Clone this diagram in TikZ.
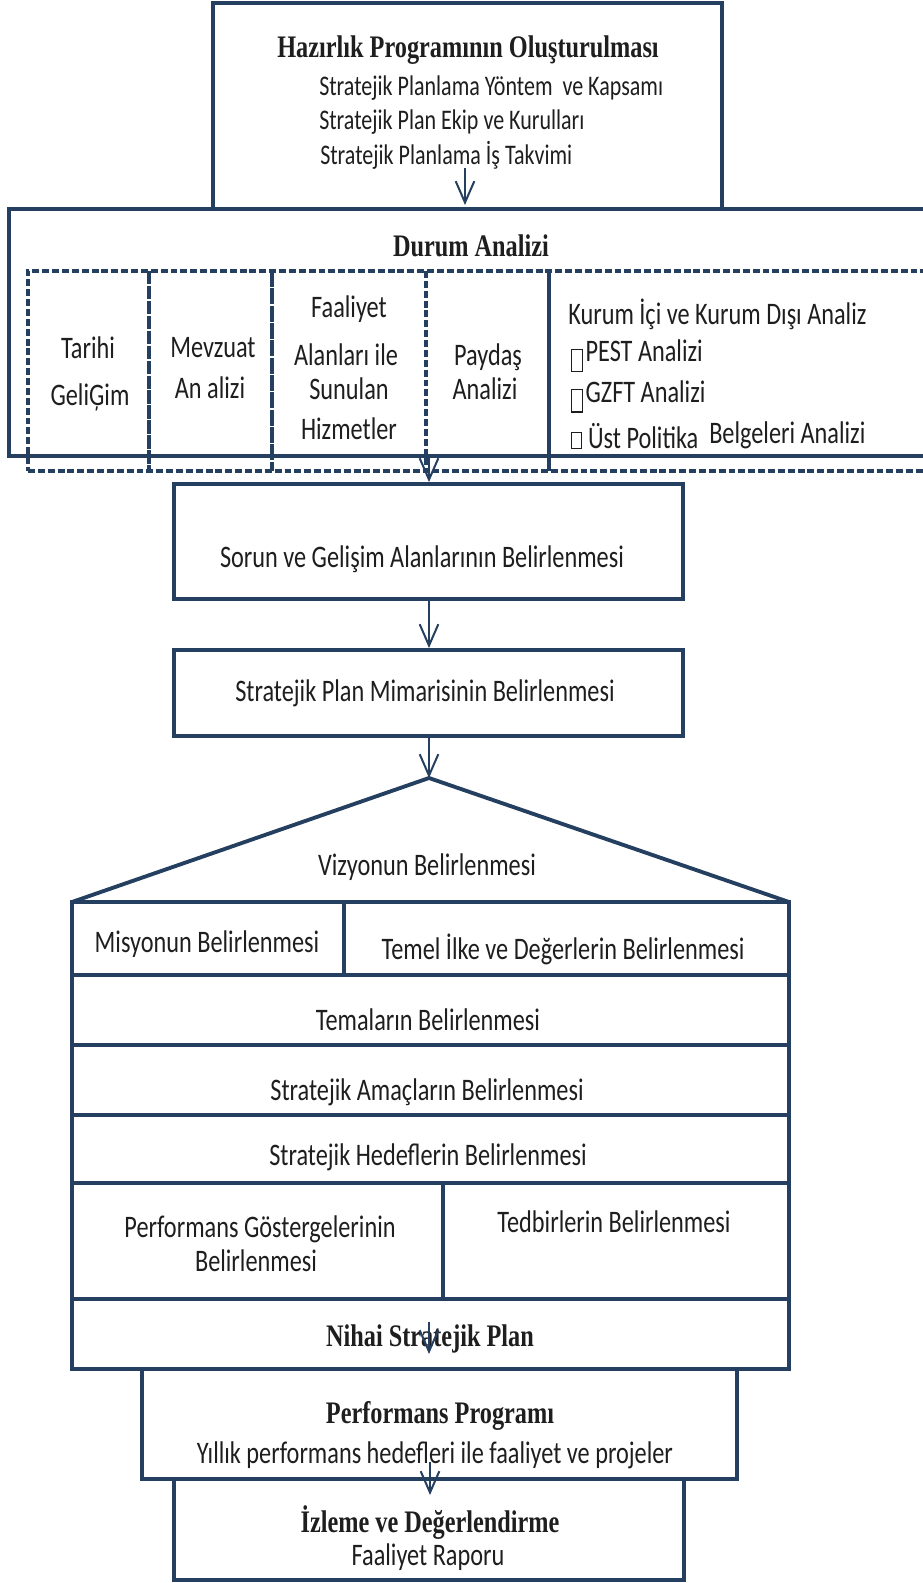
\documentclass[tikz,border=0pt]{standalone}
\usepackage{fontspec}
\setmainfont{Carlito}[FakeStretch=0.775]
\newfontfamily\hfont{Liberation Serif}[FakeStretch=0.775]
\usetikzlibrary{arrows.meta,fit}
\definecolor{lc}{HTML}{243F60}
\definecolor{tc}{HTML}{1E1E1E}
\newcommand\missbox[3]{\raisebox{#1}{\setlength{\fboxsep}{0pt}\setlength{\fboxrule}{0.9pt}\fbox{\rule{#2}{0pt}\rule{0pt}{#3}}}\kern0.08em}
\begin{document}
\begin{tikzpicture}[x=0.75pt,y=-0.75pt,
  box/.style={draw=lc,line width=2.9pt,inner sep=0pt,rectangle},
  dbox/.style={draw=lc,line width=2.6pt,dash pattern=on 5.2pt off 2.2pt,inner sep=0pt,rectangle},
  sep/.style={draw=lc,line width=2.4pt},
  arr/.style={draw=lc,line width=1.5pt,-{Straight Barb[length=16pt,width=14pt,line width=1.5pt]}},
  t/.style={text=tc,font=\fontsize{23.5}{28}\selectfont,inner sep=0pt,anchor=base},
  tl/.style={t,anchor=base west},
  ts/.style={text=tc,font=\fontsize{21.3}{26}\selectfont,inner sep=0pt,anchor=base west},
  h/.style={text=tc,font=\hfont\bfseries\fontsize{23.5}{28}\selectfont,inner sep=0pt,anchor=base}]
\useasboundingbox (0,0) rectangle (923,1583);
\begin{scope}
\clip (0,0) rectangle (923,1583);
% top box
\node[box, fit={(213,3) (722,209)}] (prep) {};
\node[h] (prept) at (468,58) {Hazırlık Programının Oluşturulması};
\node[ts] (prep1) at (319,96) {Stratejik Planlama Yöntem\ \ ve Kapsamı};
\node[ts] (prep2) at (319,130) {Stratejik Plan Ekip ve Kurulları};
\node[ts] (prep3) at (320,165) {Stratejik Planlama İş Takvimi};
\coordinate (a1s) at (465,168);
\coordinate (a1e) at (465,205);
% durum analizi
\node[box, fit={(9,209) (945,456)}] (durum) {};
\node[h] (durumt) at (471,257) {Durum Analizi};
\node[dbox, fit={(28,271) (945,471)}] (dash) {};
\draw[sep, dash pattern=on 10pt off 1.2pt] (149,271) -- (149,471);
\draw[sep, dash pattern=on 12pt off 1pt] (272,271) -- (272,471);
\draw[sep, dash pattern=on 5.2pt off 2.2pt] (426,271) -- (426,471);
\draw[sep] (549,271) -- (549,471);
\node[t] (c1a) at (88,358) {Tarihi};
\node[t] (c1b) at (90,405) {GeliĢim};
\node[t] (c2a) at (213,357) {Mevzuat};
\node[t] (c2b) at (210,398) {An alizi};
\node[t] (c3a) at (349,318) {Faaliyet};
\node[t] (c3b) at (346,365) {Alanları ile};
\node[t] (c3c) at (349,399) {Sunulan};
\node[t] (c3d) at (349,439) {Hizmetler};
\node[t] (c4a) at (488,365) {Paydaş};
\node[t] (c4b) at (485,399) {Analizi};
\node[tl] (c5a) at (568,325) {Kurum İçi ve Kurum Dışı Analiz};
\node[tl] (c5b) at (571,361) {\missbox{-0.32em}{0.3em}{0.68em}PEST Analizi};
\node[tl] (c5c) at (571,402) {\missbox{-0.3em}{0.3em}{0.68em}GZFT Analizi};
\node[tl] (c5d) at (571,448) {\missbox{0em}{0.28em}{0.48em}\kern0.1em Üst Politika};
\node[tl] (c5e) at (709,443) {Belgeleri Analizi};
\coordinate (a2s) at (429,456);
% sorun
\node[box, fit={(174,484) (683,599)}] (sorun) {};
\node[t] (sorunt) at (422,567) {Sorun ve Gelişim Alanlarının Belirlenmesi};
\node[box, fit={(174,650) (683,736)}] (mimari) {};
\node[t] (mimarit) at (425,701) {Stratejik Plan Mimarisinin Belirlenmesi};
% house
\coordinate (apex) at (429,778);
\draw[draw=lc, line width=2.9pt, line join=round] (72,902) -- (apex) -- (789,902) -- cycle;
\node[t] (vizyon) at (427,875) {Vizyonun Belirlenmesi};
\node[box, fit={(72,902) (344,975)}] (r1a) {};
\node[box, fit={(344,902) (789,975)}] (r1b) {};
\node[box, fit={(72,975) (789,1045)}] (r2) {};
\node[box, fit={(72,1045) (789,1115)}] (r3) {};
\node[box, fit={(72,1115) (789,1183)}] (r4) {};
\node[box, fit={(72,1183) (443,1299)}] (r5a) {};
\node[box, fit={(443,1183) (789,1299)}] (r5b) {};
\node[box, fit={(72,1299) (789,1369)}] (r6) {};
\node[t] (misyon) at (207,952) {Misyonun Belirlenmesi};
\node[t] (temel) at (563,959) {Temel İlke ve Değerlerin Belirlenmesi};
\node[t] (tema) at (428,1030) {Temaların Belirlenmesi};
\node[t] (amac) at (427,1100) {Stratejik Amaçların Belirlenmesi};
\node[t] (hedef) at (428,1165) {Stratejik Hedeflerin Belirlenmesi};
\node[t] (perf1) at (260,1237) {Performans Göstergelerinin};
\node[t] (perf2) at (256,1271) {Belirlenmesi};
\node[t] (tedbir) at (614,1232) {Tedbirlerin Belirlenmesi};
\node[h] (nihai) at (430,1346) {Nihai Stratejik Plan};
\coordinate (n1) at (429,1322);
\coordinate (n2) at (429,1354);
% performans programi
\node[box, fit={(142,1369) (737,1479)}] (pp) {};
\node[h] (ppt) at (440,1423) {Performans Programı};
\node[t] (pps) at (435,1463) {Yıllık performans hedefleri ile faaliyet ve projeler};
\coordinate (p1) at (430,1462);
\node[box, fit={(174,1479) (684,1580)}] (iz) {};
\node[h] (izt) at (430,1532) {İzleme ve Değerlendirme};
\node[t] (izs) at (428,1565) {Faaliyet Raporu};
\coordinate (p2) at (430,1495);
% arrows
\draw[arr] (a1s) -- (a1e);
\draw[arr] (a2s) -- (a2s |- sorun.north);
\draw[arr] (429,599) coordinate (a3s) -- (a3s |- mimari.north);
\draw[arr] (429,736) coordinate (a4s) -- (apex);
\draw[arr] (n1) -- (n2);
\draw[arr] (p1) -- (p2);
\end{scope}
\end{tikzpicture}
\end{document}
